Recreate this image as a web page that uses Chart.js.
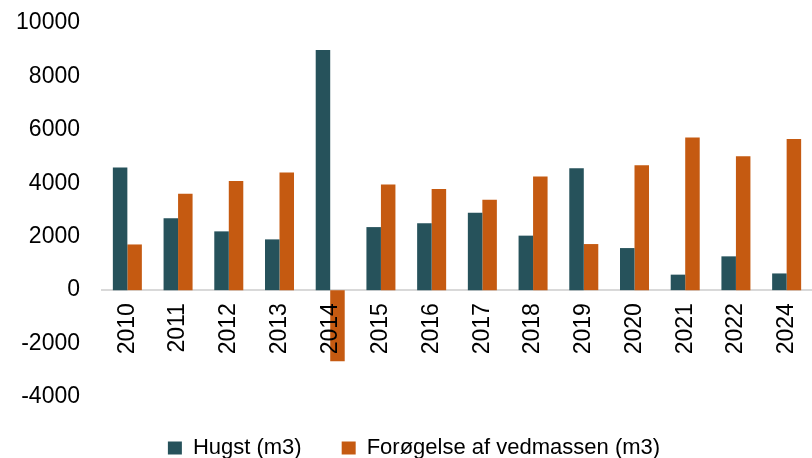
<!DOCTYPE html>
<html>
<head>
<meta charset="utf-8">
<script src="https://cdn.jsdelivr.net/npm/chart.js@4"></script>
<style>
    html, body { margin: 0; padding: 0; background: #fff; }
    #wrap { width: 812px; height: 458px; position: relative; }
</style>
</head>
<body>
<div id="wrap"><canvas id="chartCanvas"></canvas></div>
<script>
const years = ["2010", "2011", "2012", "2013", "2014", "2015", "2016", "2017", "2018", "2019", "2020", "2021", "2022", "2024"];
const hugst = [4590, 2690, 2200, 1900, 8990, 2360, 2500, 2900, 2040, 4560, 1575, 580, 1265, 625];
const forogelse = [1710, 3610, 4090, 4400, -2660, 3950, 3790, 3380, 4250, 1725, 4675, 5715, 5015, 5660];
const yTicks = [-4000, -2000, 0, 2000, 4000, 6000, 8000, 10000];

const FONT = "'Liberation Sans', Arial, sans-serif";

const ctx = document.getElementById("chartCanvas").getContext("2d");

new Chart(ctx, {
    type: "bar",
    data: {
        labels: years,
        datasets: [
            {
                label: "Hugst (m3)",
                data: hugst,
                backgroundColor: "#26525B",
                categoryPercentage: 0.572,
                barPercentage: 1.0
            },
            {
                label: "Forøgelse af vedmassen (m3)",
                data: forogelse,
                backgroundColor: "#C55A11",
                categoryPercentage: 0.572,
                barPercentage: 1.0
            }
        ]
    },
    options: {
        responsive: true,
        maintainAspectRatio: false,
        animation: false,
        layout: {
            padding: { left: 16, right: 0, top: 23, bottom: -11 }
        },
        plugins: {
            legend: {
                position: "bottom",
                labels: {
                    color: "#000",
                    boxWidth: 14,
                    boxHeight: 13,
                    padding: 40,
                    font: { family: FONT, size: 22 }
                }
            },
            tooltip: { enabled: false }
        },
        scales: {
            x: {
                position: { y: 0 },
                grid: { display: false, drawTicks: false },
                border: { display: true, color: "#D9D9D9", width: 2 },
                ticks: {
                    z: 1, // year labels drawn on top of the negative bar
                    color: "#000",
                    minRotation: 90,
                    maxRotation: 90,
                    padding: 13,
                    font: { family: FONT, size: 23 }
                },
                afterFit: function (scale) {
                    // labels sit on the zero line, no room needed at the bottom
                    scale.height = 0;
                    scale.paddingLeft = 0;
                    scale.paddingRight = 0;
                }
            },
            y: {
                min: -4000,
                max: 10000,
                grid: { display: false, drawTicks: false },
                border: { display: false },
                afterBuildTicks: function (scale) {
                    scale.ticks = yTicks.map(v => ({ value: v }));
                },
                afterFit: function (scale) {
                    scale.width = 86;
                    scale.paddingTop = 0;
                    scale.paddingBottom = 0;
                },
                ticks: {
                    color: "#000",
                    padding: 22,
                    font: { family: FONT, size: 23 },
                    callback: function (value) {
                        return String(value);
                    }
                }
            }
        }
    }
});
</script>
</body>
</html>
